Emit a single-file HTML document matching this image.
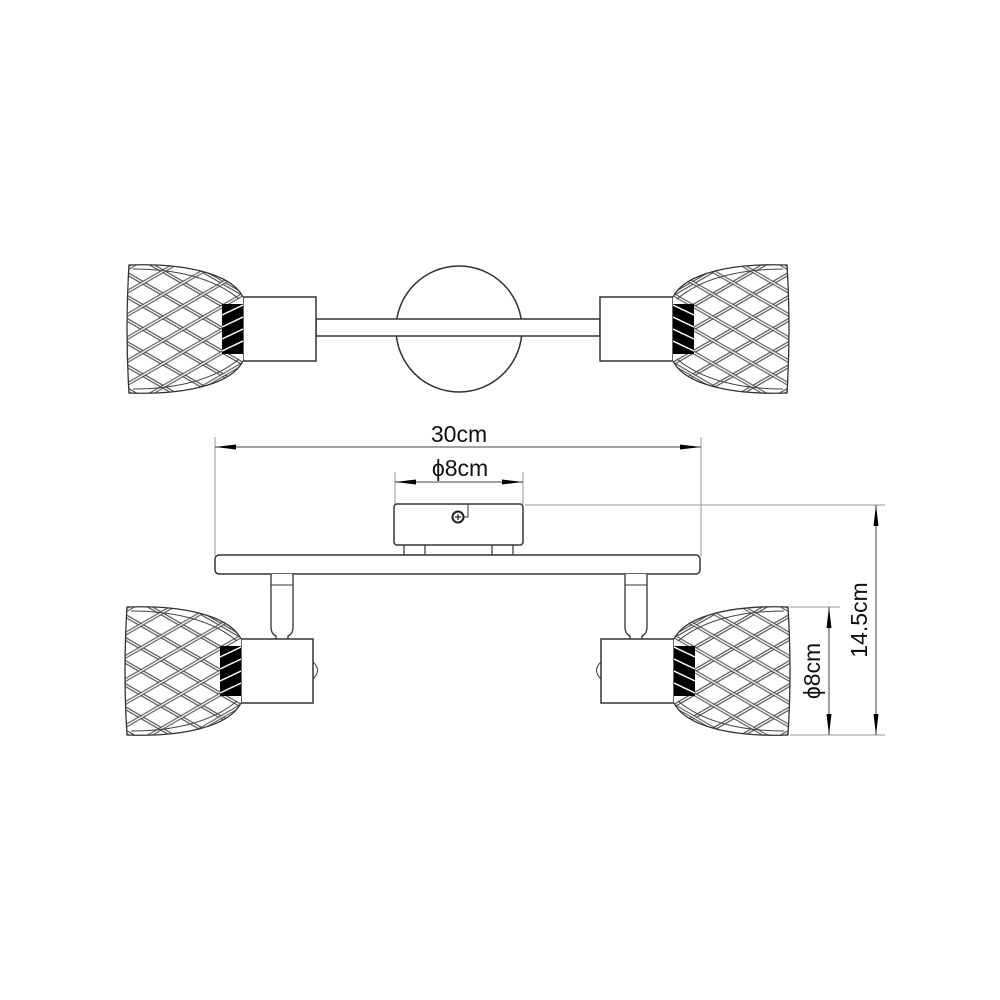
<!DOCTYPE html>
<html><head><meta charset="utf-8"><style>
html,body{margin:0;padding:0;background:#fff;}
svg{display:block;}
text{font-family:"Liberation Sans",Arial,sans-serif;fill:#111;}
</style></head><body>
<svg width="1000" height="1000" viewBox="0 0 1000 1000" xmlns="http://www.w3.org/2000/svg">
<defs>
<pattern id="pa" width="20" height="20" patternUnits="userSpaceOnUse" patternTransform="rotate(30)">
<line x1="0" y1="10" x2="20" y2="10" stroke="#333" stroke-width="3.4"/>
<line x1="0" y1="10" x2="20" y2="10" stroke="#fff" stroke-width="1.4"/>
</pattern>
<pattern id="pb" width="20" height="20" patternUnits="userSpaceOnUse" patternTransform="rotate(-30)">
<line x1="0" y1="10" x2="20" y2="10" stroke="#333" stroke-width="3.4"/>
<line x1="0" y1="10" x2="20" y2="10" stroke="#fff" stroke-width="1.4"/>
</pattern>
<clipPath id="sc"><path d="M0,-32 C-12,-56 -60,-66 -114,-64 Q-118,0 -114,64 C-60,66 -12,56 0,32 Z"/></clipPath>
<g id="shade">
<path d="M0,-32 C-12,-56 -60,-66 -114,-64 Q-118,0 -114,64 C-60,66 -12,56 0,32 Z" fill="#fff"/>
<g clip-path="url(#sc)">
<rect x="-120" y="-70" width="125" height="140" fill="url(#pa)"/>
<rect x="-120" y="-70" width="125" height="140" fill="url(#pb)" opacity="0.9"/>
<rect x="-21" y="-25" width="21" height="50" fill="#000"/>
<path d="M-21,-14 L0,-24 M-21,-2 L0,-12 M-21,10 L0,0 M-21,22 L0,12" stroke="#fff" stroke-width="1.5"/>
</g>
<path d="M0,-32 C-12,-56 -60,-66 -114,-64 Q-118,0 -114,64 C-60,66 -12,56 0,32" fill="none" stroke="#333" stroke-width="1.3"/>
<path d="M-110,-60 C-70,-60 -30,-52 -4,-30 M-110,60 C-70,60 -30,52 -4,30" fill="none" stroke="#444" stroke-width="1"/>
</g>
</defs>

<circle cx="459" cy="329" r="63" fill="#fff" stroke="#333" stroke-width="1.5"/>
<rect x="316" y="319" width="284" height="17" fill="#fff" stroke="#333" stroke-width="1.5"/>
<path d="M316,321 Q310,328 316,335" fill="none" stroke="#333"/>
<path d="M600,321 Q606,328 600,335" fill="none" stroke="#333"/>
<rect x="243" y="297" width="73" height="64" fill="#fff" stroke="#333" stroke-width="1.5"/>
<rect x="600" y="297" width="73" height="64" fill="#fff" stroke="#333" stroke-width="1.5"/>
<use href="#shade" transform="translate(243,329)"/>
<use href="#shade" transform="translate(673,329) scale(-1,1)"/>

<g stroke="#999" stroke-width="1" fill="none">
<line x1="215" y1="437" x2="215" y2="556"/>
<line x1="701" y1="437" x2="701" y2="556"/>
<line x1="395" y1="472" x2="395" y2="504"/>
<line x1="523" y1="472" x2="523" y2="504"/>
<line x1="525" y1="505" x2="885" y2="505"/>
<line x1="790" y1="607" x2="840" y2="607"/>
<line x1="790" y1="735" x2="885" y2="735"/>
</g>
<g stroke="#444" stroke-width="1">
<line x1="215" y1="447" x2="701" y2="447"/>
<line x1="395" y1="482" x2="523" y2="482"/>
<line x1="876" y1="505" x2="876" y2="735"/>
<line x1="829" y1="607" x2="829" y2="735"/>
</g>
<g fill="#000">
<path d="M215,447 L236,444.5 L236,449.5Z"/>
<path d="M701,447 L680,444.5 L680,449.5Z"/>
<path d="M395,482 L416,479.5 L416,484.5Z"/>
<path d="M523,482 L502,479.5 L502,484.5Z"/>
<path d="M876,505 L873.5,526 L878.5,526Z"/>
<path d="M876,735 L873.5,714 L878.5,714Z"/>
<path d="M829,607 L826.5,628 L831.5,628Z"/>
<path d="M829,735 L826.5,714 L831.5,714Z"/>
</g>
<text x="459" y="442" font-size="23" text-anchor="middle">30cm</text>
<text x="460" y="476" font-size="23" text-anchor="middle">ϕ8cm</text>
<text transform="translate(867,620) rotate(-90)" font-size="23" text-anchor="middle">14.5cm</text>
<text transform="translate(820,671) rotate(-90)" font-size="23" text-anchor="middle">ϕ8cm</text>

<rect x="404" y="544" width="21" height="11" fill="#fff" stroke="#333" stroke-width="1.2"/>
<rect x="492" y="544" width="21" height="11" fill="#fff" stroke="#333" stroke-width="1.2"/>
<rect x="394" y="504" width="129" height="41" rx="3" fill="#fff" stroke="#333" stroke-width="1.5"/>
<path d="M459,517 L468,517 L468,504" fill="none" stroke="#333"/>
<circle cx="458" cy="517" r="5.5" fill="#fff" stroke="#222" stroke-width="2"/>
<path d="M455,517 H461 M458,514 V520" stroke="#222" stroke-width="1.2"/>
<rect x="215" y="555" width="485" height="19" rx="4" fill="#fff" stroke="#333" stroke-width="1.5"/>
<path d="M271,574 V627 Q271,634 276,636 L276,640 H288 V636 Q293,634 293,627 V574" fill="#fff" stroke="#333" stroke-width="1.3"/>
<line x1="271" y1="585" x2="293" y2="585" stroke="#333"/>
<path d="M625,574 V627 Q625,634 630,636 L630,640 H642 V636 Q647,634 647,627 V574" fill="#fff" stroke="#333" stroke-width="1.3"/>
<line x1="625" y1="585" x2="647" y2="585" stroke="#333"/>
<path d="M313,662 Q322,670 313,679" fill="#fff" stroke="#333"/>
<rect x="241" y="639" width="72" height="64" fill="#fff" stroke="#333" stroke-width="1.5"/>
<use href="#shade" transform="translate(241,671)"/>
<path d="M601,662 Q592,670 601,679" fill="#fff" stroke="#333"/>
<rect x="601" y="639" width="73" height="64" fill="#fff" stroke="#333" stroke-width="1.5"/>
<use href="#shade" transform="translate(674,671) scale(-1,1)"/>
</svg>
</body></html>
